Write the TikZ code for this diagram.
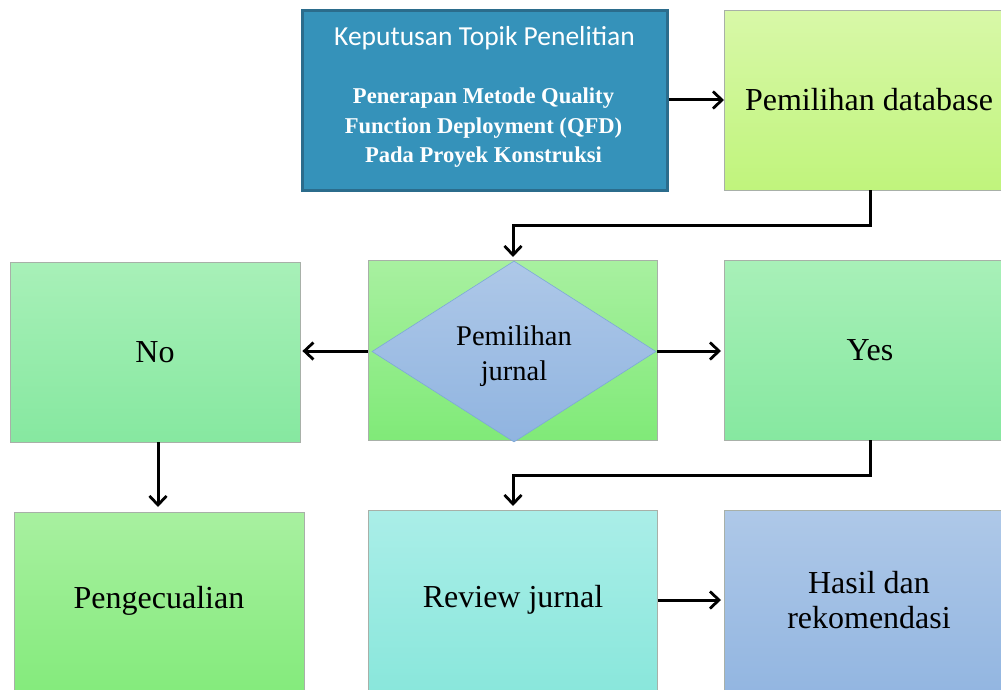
\documentclass[tikz,border=0pt]{standalone}
\usepackage{fontspec}
\setmainfont{Liberation Serif}
\newfontfamily\calib{Carlito}
\usetikzlibrary{arrows.meta,shapes.geometric}
\definecolor{topfill}{HTML}{3592BA}
\definecolor{topborder}{HTML}{2B6C8C}
\definecolor{boxline}{HTML}{A8B0A8}
\tikzset{
  x=1pt, y=-1pt,
  box/.style={rectangle, draw=boxline, line width=0.8pt, inner sep=0pt, align=center,
    font=\fontsize{32}{35}\selectfont, text=black},
  bigtext/.style={font=\fontsize{32}{35}\selectfont, align=center},
  limec/.style={top color={rgb,255:red,216;green,248;blue,168}, bottom color={rgb,255:red,192;green,244;blue,124}},
  grn/.style={top color={rgb,255:red,168;green,240;blue,160}, bottom color={rgb,255:red,128;green,234;blue,120}},
  mint/.style={top color={rgb,255:red,168;green,240;blue,184}, bottom color={rgb,255:red,134;green,232;blue,160}},
  cyanb/.style={top color={rgb,255:red,170;green,238;blue,232}, bottom color={rgb,255:red,134;green,230;blue,218}},
  blueb/.style={top color={rgb,255:red,174;green,200;blue,232}, bottom color={rgb,255:red,144;green,180;blue,224}},
  conn/.style={line width=3pt, -{Straight Barb[length=9pt,width=17pt,line width=2.8pt]}},
}
\begin{document}
\begin{tikzpicture}
\useasboundingbox (0,0) rectangle (1001,690);
\clip (0,0) rectangle (1001,690);
% top box
\node[rectangle, draw=topborder, line width=3pt, fill=topfill, minimum width=365pt, minimum height=179pt, inner sep=0pt] (top) at (484.5,100.5) {};
\node[text=white, font=\calib\fontsize{27.5}{30}\selectfont] (toph) at (484.5,38) {Keputusan Topik Penelitian};
\node[text=white, font=\bfseries\fontsize{22.6}{29.5}\selectfont, align=center] (topt) at (483.5,128) {Penerapan Metode Quality\\Function Deployment (QFD)\\Pada Proyek Konstruksi};
% database
\node[box, limec, minimum width=290pt, minimum height=180pt, anchor=north west] (db) at (724,10) {};
\node[bigtext] (dbt) at (869,100) {Pemilihan database};
% decision
\node[box, grn, minimum width=289pt, minimum height=180pt] (decbg) at (512.5,350.5) {};
\node[diamond, draw={rgb,255:red,125;green,168;blue,216}, line width=0.6pt, blueb, aspect=1.57, minimum width=284pt, minimum height=181pt, inner sep=0pt] (dec) at (514,351.5) {};
\node[align=center, font=\fontsize{28.5}{35}\selectfont] (dect) at (514,356) {Pemilihan\\jurnal};
% no / yes
\node[box, mint, minimum width=290pt, minimum height=180pt] (no) at (155,352) {No};
\node[box, mint, minimum width=290pt, minimum height=180pt, anchor=north west] (yes) at (724,260) {};
\node[bigtext] (yest) at (870,350) {Yes};
% bottom row
\node[box, grn, minimum width=290pt, minimum height=200pt, anchor=north west] (peng) at (14,512) {};
\node[bigtext] (pengt) at (159,601) {Pengecualian};
\node[box, cyanb, minimum width=289pt, minimum height=200pt, anchor=north west] (review) at (368,510) {};
\node[bigtext] (reviewt) at (513,600) {Review jurnal};
\node[box, blueb, minimum width=290pt, minimum height=200pt, anchor=north west] (hasil) at (724,510) {};
\node[bigtext] (hasilt) at (869,600) {Hasil dan\\rekomendasi};
% connectors
\coordinate (dbdown) at (870,190);
\coordinate (yesdown) at (870,440);
\draw[conn] (top.east |- 0,100) -- (db.west |- 0,100);
\draw[conn] (dbdown) -- (870,225) -- (513,225) -- (513,257);
\draw[conn] (decbg.west |- 0,351) -- ([xshift=2pt]no.east |- 0,351);
\draw[conn] (decbg.east |- 0,351) -- ([xshift=-3pt]yes.west |- 0,351);
\draw[conn] (no.south -| 158,0) -- (158,507);
\draw[conn] (yesdown) -- (870,475) -- (513,475) -- (513,506);
\draw[conn] (review.east |- 0,600) -- ([xshift=-3pt]hasil.west |- 0,600);
\end{tikzpicture}
\end{document}
